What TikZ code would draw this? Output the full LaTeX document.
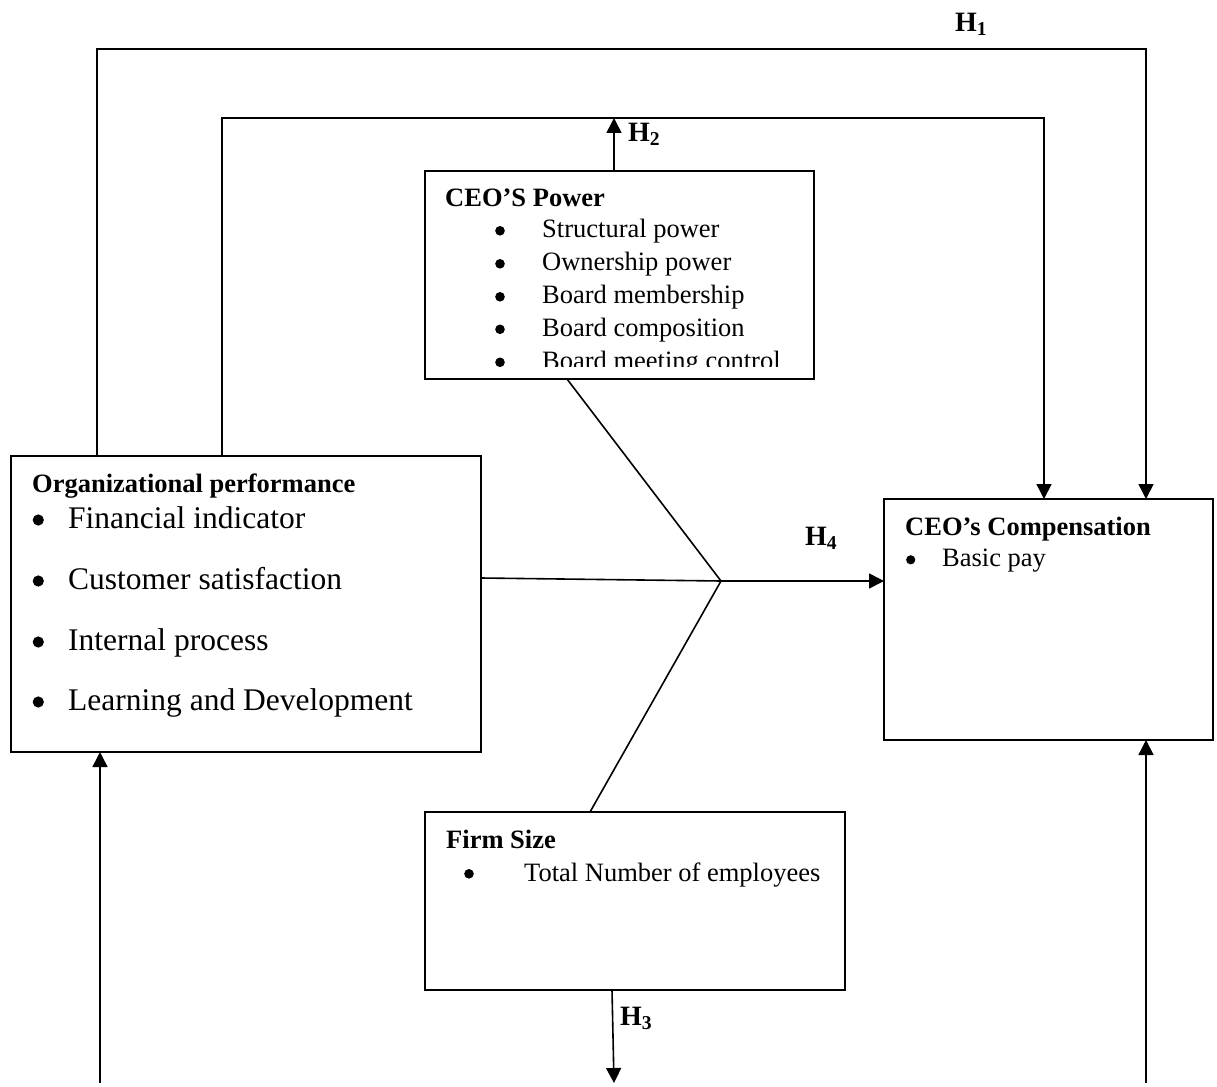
\documentclass[tikz,border=0pt]{standalone}
\usepackage{fontspec}
\setmainfont{Liberation Serif}
\usetikzlibrary{arrows.meta}
\begin{document}
\begin{tikzpicture}[x=1pt,y=-1pt,
  box/.style={draw,line width=1.6pt,rectangle,inner sep=0,outer sep=0},
  ln/.style={line width=1.6pt},
  arr/.style={line width=1.6pt,-{Triangle[length=15pt,width=15pt]}},
  txt/.style={anchor=base west,inner sep=0,font=\fontsize{26.5}{32}\selectfont},
  big/.style={anchor=base west,inner sep=0,font=\fontsize{31.5}{38}\selectfont},
  hd/.style={anchor=base west,inner sep=0,font=\fontsize{26.5}{32}\selectfont\bfseries},
  hl/.style={anchor=base west,inner sep=0,font=\fontsize{28}{32}\selectfont\bfseries}]
\useasboundingbox (0,0) rectangle (1217,1086);
\fill[white] (0,0) rectangle (1217,1086);
% boxes
\node[box,minimum width=470,minimum height=296] (org) at (246,604) {};
\node[box,minimum width=389,minimum height=208] (power) at (619.5,275) {};
\node[box,minimum width=329,minimum height=241] (comp) at (1048.5,619.5) {};
\node[box,minimum width=420,minimum height=178] (firm) at (635,901) {};
% power text
\node[hd] (pwh) at (445,206) {CEO’S Power};
\foreach \t/\y [count=\i] in {Structural power/237.5,Ownership power/270.5,Board membership/303.5,Board composition/336}{
  \fill (500,\y-6.7) circle (4.8);
  \node[txt] (pt\i) at (542,\y) {\t};
}
\begin{scope}
\clip (426,340) rectangle (813,366.5);
\fill (500,369-6.7) circle (4.8);
\node[txt] (pt5) at (542,369) {Board meeting control};
\end{scope}
% org text
\node[hd] (orgh) at (32,492) {Organizational performance};
\foreach \t/\y [count=\i] in {Financial indicator/528,Customer satisfaction/589,Internal process/650,Learning and Development/710}{
  \fill (38.3,\y-8) circle (5.6);
  \node[big] (ot\i) at (68,\y) {\t};
}
% comp text
\node[hd] (comph) at (905,535) {CEO’s Compensation};
\fill (910.7,566.5-6.7) circle (4.6);
\node[txt] (ct1) at (942,566.5) {Basic pay};
% firm text
\node[hd] (firmh) at (446,848) {Firm Size};
\fill (469,881-7.2) circle (4.8);
\node[txt] (ft1) at (524,881) {Total Number of employees};
% coordinates
\coordinate (h1l) at (97,49);
\coordinate (h1r) at (1146,49);
\coordinate (h2l) at (222,118);
\coordinate (h2r) at (1044,118);
\coordinate (h2t) at (614,118);
\coordinate (j) at (721,581);
\coordinate (h3e) at (614,1083);
\coordinate (bl) at (100,1083);
\coordinate (br) at (1146,1083);
% connectors
\draw[arr] ([xshift=86]org.north west) -- (h1l) -- (h1r) -- ([xshift=262]comp.north west);
\draw[arr] ([xshift=211]org.north west) -- (h2l) -- (h2r) -- ([xshift=160]comp.north west);
\draw[arr] ([xshift=-5.5]power.north) -- (h2t);
\draw[ln] ([yshift=26]org.east) -- (j);
\draw[arr] (j) -- ([yshift=38.5]comp.west);
\draw[ln] ([xshift=-52.5]power.south) -- (j);
\draw[ln] ([xshift=-45]firm.north) -- (j);
\draw[arr] ([xshift=-23]firm.south) -- (h3e);
\draw[arr] (bl) -- ([xshift=-146]org.south);
\draw[arr] (br) -- ([xshift=97.5]comp.south);
% labels
\node[hl] (H1) at (955,31.5) {H\textsubscript{1}};
\node[hl] (H2) at (628,141.5) {H\textsubscript{2}};
\node[hl] (H3) at (620,1025) {H\textsubscript{3}};
\node[hl] (H4) at (805,545.5) {H\textsubscript{4}};
\end{tikzpicture}
\end{document}
